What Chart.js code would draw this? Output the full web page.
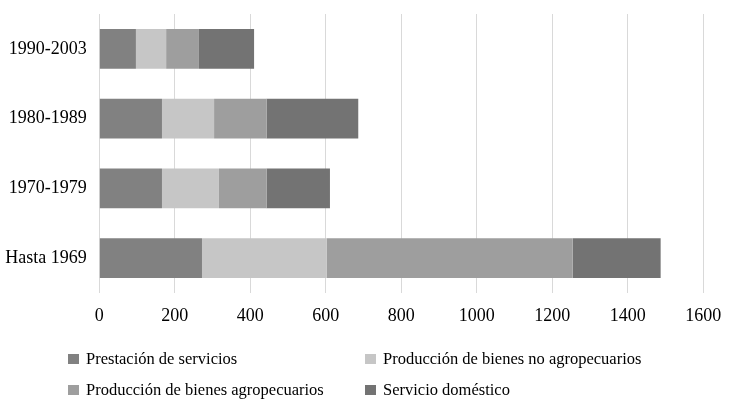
<!DOCTYPE html>
<html>
<head>
<meta charset="utf-8">
<script src="https://cdn.jsdelivr.net/npm/chart.js@4.4.1/dist/chart.umd.min.js"></script>
<style>
  html, body { margin: 0; padding: 0; background: #fff; }
  #wrap { position: relative; width: 738px; height: 408px; }
  #legend { position: absolute; left: 0; top: 0; width: 738px; height: 408px; pointer-events: none;
    font-family: "Liberation Serif", "Times New Roman", serif; font-size: 16.5px; color: #000; }
  .item { position: absolute; white-space: nowrap; line-height: 20px; }
  .box { position: absolute; width: 11px; height: 10px; top: 5px; left: 0; }
  .lbl { position: absolute; left: 18px; top: 0; }
</style>
</head>
<body>
<div id="wrap">
  <canvas id="c" width="738" height="408"></canvas>
  <div id="legend"></div>
</div>
<script>
const categories = ["1990-2003", "1980-1989", "1970-1979", "Hasta 1969"];
const seriesNames = ["Prestación de servicios", "Producción de bienes no agropecuarios", "Producción de bienes agropecuarios", "Servicio doméstico"];
const prestacion = [97, 166, 166, 272];
const noAgro = [80, 138, 151, 330];
const agro = [87, 139, 126, 652];
const domestico = [146, 243, 168, 233];
const xTicks = [0, 200, 400, 600, 800, 1000, 1200, 1400, 1600];
const colors = ["#818181", "#c6c6c6", "#9e9e9e", "#737373"];

const seriesValues = [prestacion, noAgro, agro, domestico];
const font = "'Liberation Serif', 'Times New Roman', serif";

const chart = new Chart(document.getElementById('c'), {
  type: 'bar',
  data: {
    labels: categories,
    datasets: seriesNames.map((n, i) => ({
      label: n,
      data: seriesValues[i],
      backgroundColor: colors[i],
      borderWidth: 0,
      barPercentage: 0.57,
      categoryPercentage: 1.0
    }))
  },
  options: {
    indexAxis: 'y',
    responsive: false,
    animation: false,
    devicePixelRatio: 1,
    layout: { padding: { top: 14, right: 34.7, bottom: 81.4, left: 0 } },
    plugins: { legend: { display: false }, tooltip: { enabled: false } },
    scales: {
      x: {
        stacked: true,
        min: 0, max: 1600,
        afterBuildTicks: (s) => { s.ticks = xTicks.map(v => ({ value: v })); },
        afterFit: (s) => { s.height = 33.6; s.paddingLeft = 0; s.paddingRight = 0; s.paddingTop = 0; s.paddingBottom = 0; },
        grid: { color: '#d9d9d9', lineWidth: 1, drawTicks: false },
        border: { display: false },
        ticks: { color: '#000', padding: 12, font: { family: font, size: 18 },
          callback: (v) => String(v) }
      },
      y: {
        stacked: true,
        afterFit: (s) => { s.width = 99.3; s.paddingTop = 0; s.paddingBottom = 0; },
        grid: { display: false, drawTicks: false },
        border: { display: false },
        ticks: { color: '#000', padding: 12.5, font: { family: font, size: 18 } }
      }
    }
  }
});

// HTML legend in two columns
const legendPos = [
  { x: 68, y: 349 },
  { x: 365, y: 349 },
  { x: 68, y: 380 },
  { x: 365, y: 380 }
];
const lg = document.getElementById('legend');
chart.data.datasets.forEach((ds, i) => {
  const it = document.createElement('div');
  it.className = 'item';
  it.style.left = legendPos[i].x + 'px';
  it.style.top = legendPos[i].y + 'px';
  const b = document.createElement('span');
  b.className = 'box';
  b.style.background = ds.backgroundColor;
  const t = document.createElement('span');
  t.className = 'lbl';
  t.textContent = ds.label;
  it.appendChild(b); it.appendChild(t);
  lg.appendChild(it);
});
</script>
</body>
</html>
